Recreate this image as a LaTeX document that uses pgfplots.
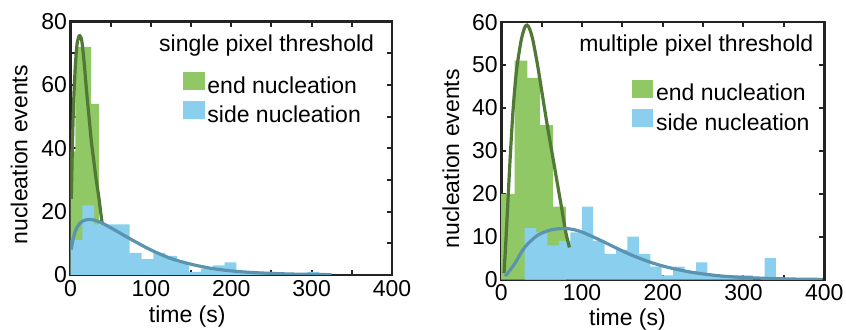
\documentclass[border=0pt]{standalone}
\usepackage{fontspec}
\setmainfont{Liberation Sans}
\usepackage{pgfplots}
\pgfplotsset{compat=1.18}

\definecolor{endfill}{RGB}{143,200,100}
\definecolor{sidefill}{RGB}{138,208,238}
\definecolor{endfit}{RGB}{82,120,54}
\definecolor{sidefit}{RGB}{90,148,176}
\definecolor{frame}{RGB}{35,35,35}

\newcommand{\fs}{\fontsize{23bp}{27bp}\selectfont}

\pgfplotsset{
  panel/.style={
    scale only axis,
    xmin=0, xmax=400,
    xtick={0,100,...,400},
    minor xtick={50,150,250,350},
    axis line style={line width=2.8bp, frame},
    every tick/.style={line width=2bp, frame},
    major tick length=5bp, minor tick length=5bp,
    tick align=inside,
    ticklabel style={font=\fs},
    xticklabel style={yshift=-1.5bp},
    /pgf/number format/assume math mode=true,
    xlabel={time (s)}, ylabel={nucleation events},
    label style={font=\fs},
    legend style={draw=none, fill=none, inner sep=0pt, outer sep=0pt,
      anchor=north west, font=\fs, row sep=3bp,
      nodes={inner sep=2bp, text height=17bp, text depth=3bp}},
    legend cell align=left,
  },
  histo/.style={ybar interval, draw=none, fill=#1, forget plot},
  fit/.style={smooth, line width=3.2bp, color=#1, forget plot},
}

% legend patch: filled square followed by a small gap before the text
\newcommand{\patch}[1]{\addlegendimage{legend image code/.code={%
  \fill[#1] (0bp,-3bp) rectangle (20.5bp,14bp); \path (22bp,0bp);}}}

\begin{document}
\begin{tikzpicture}
\path[use as bounding box] (0bp,0bp) rectangle (846bp,330bp);

% ---------------- single pixel threshold ----------------
\begin{axis}[panel,
  at={(70.5bp,55bp)}, anchor=south west,
  width=321.5bp, height=253.5bp,
  ymin=0, ymax=80, ytick={0,20,...,80}, minor ytick={10,30,50,70},
  xlabel style={at={(axis description cs:0.363,-0.165)}, anchor=center},
  ylabel style={at={(axis description cs:-0.16,0.475)}, anchor=center},
  legend style={at={(axis description cs:0.35,0.80)}},
]
\addplot[histo=endfill] coordinates {
  (0,39) (6,72) (15.8,72) (25.6,54) (35.4,12) (45.2,0)};
\addplot[histo=sidefill] coordinates {
  (0,11) (14.7,22) (29.5,16) (44.2,16) (59,16) (73.7,7) (88.4,5)
  (103.2,7) (117.9,6) (132.7,4) (147.4,1) (162.1,2) (176.9,3)
  (191.6,4) (206.4,1) (221.1,1) (235.8,1) (250.6,0) (265.3,0)
  (280,0) (294.8,1) (309.5,0)};
\addplot[fit=endfit] coordinates {
  (1,24) (2.5,42) (4,55) (6,66) (8,72.5) (10,75) (11.5,75.5)
  (14,74) (17,67) (20,58) (23,50) (26,42) (29,36) (32,30)
  (35,25) (37.5,20) (39.5,16)};
\addplot[fit=sidefit] coordinates {
  (1,8) (3,11) (6,13.8) (10,15.8) (15,17) (22,17.5) (30,17.3)
  (40,16.3) (55,14.2) (75,11.3) (100,7.9) (125,5.2) (150,3.4)
  (175,2.1) (200,1.3) (225,0.8) (250,0.5) (275,0.3) (300,0.2) (325,0.1)};
\patch{endfill}
\addlegendentry{end nucleation}
\patch{sidefill}
\addlegendentry{side nucleation}
\node[font=\fs, anchor=base east] at (axis description cs:0.955,0.883) {single pixel threshold};
\end{axis}

% ---------------- multiple pixel threshold ----------------
\begin{axis}[panel,
  at={(501.2bp,50.4bp)}, anchor=south west,
  width=323bp, height=257.5bp,
  ymin=0, ymax=60, ytick={0,10,...,60},
  xlabel style={at={(axis description cs:0.391,-0.156)}, anchor=center},
  ylabel style={at={(axis description cs:-0.156,0.47)}, anchor=center},
  legend style={at={(axis description cs:0.404,0.776)}},
]
\addplot[histo=endfill] coordinates {
  (0,20) (16.7,51) (32.4,47) (48.2,36) (64,17) (80,0)};
\addplot[histo=sidefill] coordinates {
  (29,12) (43.15,11) (57.3,8) (71.45,9) (85.6,11) (99.75,17)
  (113.9,9) (128.05,6) (142.2,7) (156.35,10) (170.5,6) (184.65,3)
  (198.8,1) (212.95,3) (227.1,2) (241.25,4) (255.4,1) (269.55,1)
  (283.7,1) (297.85,1) (312,0) (326.15,5) (340.3,0)};
\addplot[fit=endfit] coordinates {
  (3.5,1.5) (5.5,8) (8,17) (11,28) (14.5,39) (18,47) (21,51.5)
  (25,56) (29,58.7) (32,59.3) (35,58.5) (39,56) (45,50) (51,43)
  (57,36) (63,29.5) (69,23) (75,16.5) (80,11) (84.5,7.5)};
\addplot[fit=sidefit] coordinates {
  (5,0.8) (10,2) (17,3.8) (29,7.5) (45,10.3) (62,11.6) (80,11.9)
  (95,11.4) (111,10.2) (128,8.7) (142,7.4) (158,6) (175,4.7)
  (192,3.6) (210,2.7) (233,1.8) (255,1.2) (275,0.8) (300,0.5)
  (335,0.25) (370,0.1) (398,0.05)};
\patch{endfill}
\addlegendentry{end nucleation}
\patch{sidefill}
\addlegendentry{side nucleation}
\node[font=\fs, anchor=base east] at (axis description cs:0.977,0.887) {multiple pixel threshold};
\end{axis}
\end{tikzpicture}
\end{document}
